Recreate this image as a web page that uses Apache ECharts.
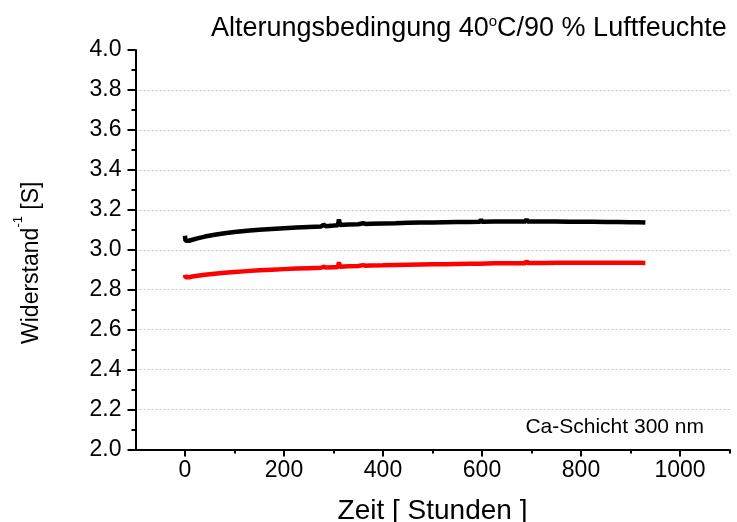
<!DOCTYPE html>
<html>
<head>
<meta charset="utf-8">
<script src="https://cdn.jsdelivr.net/npm/echarts@6/dist/echarts.min.js"></script>
<style>html,body{margin:0;padding:0;background:#fff}#c{width:737px;height:522px}</style>
</head>
<body>
<div id="c"></div>
<script>
var hours = [0,1,3,8,15,25,40,60,80,100,125,150,175,200,225,250,275,280,285,300,309,311,313,330,350,360,365,375,400,425,450,475,500,525,550,575,596,598,600,625,650,675,688,690,692,710,730,750,775,800,825,850,875,900,915,930];
var blackVals = [3.07,3.045,3.04,3.045,3.05,3.057,3.066,3.075,3.083,3.089,3.095,3.100,3.104,3.108,3.111,3.114,3.117,3.125,3.118,3.121,3.123,3.152,3.124,3.126,3.128,3.133,3.129,3.130,3.132,3.133,3.135,3.136,3.137,3.138,3.139,3.139,3.140,3.152,3.140,3.141,3.141,3.141,3.141,3.153,3.141,3.141,3.141,3.141,3.140,3.140,3.140,3.139,3.139,3.138,3.138,3.136];
var redVals = [2.875,2.862,2.858,2.862,2.866,2.870,2.875,2.880,2.885,2.889,2.893,2.897,2.900,2.903,2.906,2.908,2.910,2.915,2.911,2.913,2.914,2.937,2.915,2.917,2.919,2.923,2.920,2.921,2.922,2.924,2.925,2.926,2.927,2.928,2.929,2.930,2.930,2.937,2.931,2.932,2.932,2.933,2.933,2.945,2.934,2.934,2.934,2.935,2.935,2.935,2.935,2.935,2.935,2.935,2.935,2.934];
var xMajorTicks = [0,200,400,600,800,1000];
var xMinorTicks = [100,300,500,700,900,1100];
var titleText = 'Alterungsbedingung 40{sup|o}C/90 % Luftfeuchte';
var yName = '{m|Widerstand}{sup|-1}{m| [S]}';
var xName = 'Zeit [ Stunden ]';
var noteText = 'Ca-Schicht 300 nm';

function pairs(xs, ys){ return xs.map(function(x,i){ return [x, ys[i]]; }); }

var FONT = '"Liberation Sans", Arial, sans-serif';
var chart = echarts.init(document.getElementById('c'), null, {renderer:'canvas'});
var gridColors = [];
for (var i=0;i<10;i++) gridColors.push('#c4c4c4');
gridColors.push('rgba(0,0,0,0)');

chart.setOption({
  animation:false,
  backgroundColor:'#fff',
  title:{
    text: titleText, left: 206, top: 9,
    textStyle:{fontFamily:FONT, fontSize:27, fontWeight:'normal', color:'#000',
      rich:{sup:{fontFamily:FONT, fontSize:15, color:'#000', verticalAlign:'top', padding:[0,0,14,0]}}}
  },
  grid:{left:135.5, right:7.5, top:50, bottom:72.5, outerBoundsMode:'none', containLabel:false},
  xAxis:[{
    type:'value', min:-100, max:1100, position:'bottom',
    name: xName, nameLocation:'middle', nameGap:48,
    nameTextStyle:{fontFamily:FONT, fontSize:28, color:'#000'},
    axisLine:{onZero:false, lineStyle:{color:'#000', width:2}},
    axisTick:{customValues:xMajorTicks, length:7, lineStyle:{color:'#000', width:2}},
    axisLabel:{customValues:xMajorTicks, margin:10, fontFamily:FONT, fontSize:23, color:'#000',
      formatter:function(v){return String(v);}},
    splitLine:{show:false}
  },{
    type:'value', min:-100, max:1100, position:'bottom', gridIndex:0,
    axisLine:{show:false, onZero:false},
    axisTick:{customValues:xMinorTicks, length:4, lineStyle:{color:'#000', width:2}},
    axisLabel:{show:false},
    splitLine:{show:false}
  }],
  yAxis:{
    type:'value', min:2, max:4, interval:0.2,
    name: yName, nameLocation:'middle', nameGap:92,
    nameTextStyle:{fontFamily:FONT, fontSize:23, color:'#000', padding:[0,26,0,0],
      rich:{
        m:{fontFamily:FONT, fontSize:23, color:'#000', verticalAlign:'bottom', lineHeight:32},
        sup:{fontFamily:FONT, fontSize:13, color:'#000', verticalAlign:'top', lineHeight:14}
      }},
    axisLine:{onZero:false, lineStyle:{color:'#000', width:2}},
    axisTick:{length:8, lineStyle:{color:'#000', width:2}},
    minorTick:{show:true, splitNumber:2, length:4, lineStyle:{color:'#000', width:2}},
    axisLabel:{margin:14, fontFamily:FONT, fontSize:23, color:'#000', formatter:function(v){return v.toFixed(1);}},
    splitLine:{show:true, lineStyle:{color:gridColors, type:[2,2], width:1}}
  },
  graphic:[{
    type:'text', right:33, top:417,
    style:{text:noteText, fontFamily:FONT, fontSize:21, fill:'#000'}
  }],
  series:[{
    type:'line', xAxisIndex:0, data:pairs(hours, blackVals), showSymbol:false,
    lineStyle:{color:'#000', width:4.5}, itemStyle:{color:'#000'}
  },{
    type:'line', xAxisIndex:0, data:pairs(hours, redVals), showSymbol:false,
    lineStyle:{color:'#ff0000', width:4.5}, itemStyle:{color:'#ff0000'}
  }]
});
</script>
</body>
</html>
